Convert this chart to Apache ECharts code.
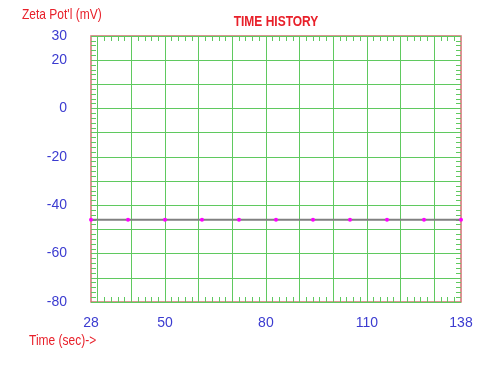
<!DOCTYPE html>
<html><head><meta charset="utf-8">
<script src="https://cdn.jsdelivr.net/npm/echarts@6/dist/echarts.min.js"></script>
<style>html,body{margin:0;padding:0;background:#fff}#c{width:496px;height:366px}</style>
</head><body><div id="c"></div>
<script>
var timeSec = [28, 39, 50, 61, 72, 83, 94, 105, 116, 127, 138];
var zetaMv = [-46, -46, -46, -46, -46, -46, -46, -46, -46, -46, -46];
var xTickLabels = [28, 50, 80, 110, 138];
var xGridValues = [30, 40, 50, 60, 70, 80, 90, 100, 110, 120, 130];
var yTickLabels = [30, 20, 0, -20, -40, -60, -80];

var xMinor = [];
for (var v = 30; v < 138; v += 2) xMinor.push(v);

var FONT = "'Liberation Sans', Arial, sans-serif";
var BLUE = '#3b3bd0';
var RED = '#e8202a';
var GREEN = '#5fc95f';

var chart = echarts.init(document.getElementById('c'), null, {renderer: 'canvas'});
var minorX = function (pos) {
  return {
    type: 'value', position: pos, min: 28, max: 138,
    axisLine: {show: false, onZero: false},
    axisTick: {show: true, inside: true, length: 5, customValues: xMinor, lineStyle: {color: GREEN, width: 1}},
    axisLabel: {show: false},
    splitLine: {show: false}
  };
};
var yAx = function (pos, labels) {
  return {
    type: 'value', position: pos, min: -80, max: 30, interval: 10,
    axisLine: {show: false, onZero: false},
    axisTick: {show: true, inside: true, length: 8, lineStyle: {color: GREEN, width: 1}},
    minorTick: {show: true, splitNumber: 5, length: 5, lineStyle: {color: GREEN, width: 1}},
    axisLabel: {
      show: labels, color: BLUE, fontFamily: FONT, fontSize: 14, margin: 24,
      formatter: function (val) { return yTickLabels.indexOf(val) >= 0 ? String(val) : ''; }
    },
    splitLine: {show: labels, lineStyle: {color: GREEN, width: 1}}
  };
};
chart.setOption({
  animation: false,
  grid: {left: 91, right: 35, top: 36, bottom: 64, show: true, borderColor: '#d07070', borderWidth: 1.5, backgroundColor: 'transparent'},
  graphic: [
    {type: 'text', x: 276, y: 22, scaleX: 0.8, style: {text: 'TIME HISTORY', fill: RED, font: 'bold 15px ' + FONT, align: 'center', verticalAlign: 'middle'}},
    {type: 'text', x: 22, y: 15, scaleX: 0.8, style: {text: "Zeta Pot'l (mV)", fill: RED, font: '15px ' + FONT, align: 'left', verticalAlign: 'middle'}},
    {type: 'text', x: 29, y: 341, scaleX: 0.8, style: {text: 'Time (sec)->', fill: RED, font: '15px ' + FONT, align: 'left', verticalAlign: 'middle'}}
  ],
  xAxis: [
    {
      type: 'value', position: 'bottom', min: 28, max: 138,
      axisLine: {show: false, onZero: false},
      axisTick: {show: false, customValues: xGridValues},
      axisLabel: {color: BLUE, fontFamily: FONT, fontSize: 14, margin: 14, customValues: xTickLabels},
      splitLine: {show: true, lineStyle: {color: GREEN, width: 1}}
    },
    minorX('bottom'),
    minorX('top')
  ],
  yAxis: [yAx('left', true), yAx('right', false)],
  series: [{
    type: 'line', xAxisIndex: 0, yAxisIndex: 0,
    data: timeSec.map(function (t, i) { return [t, zetaMv[i]]; }),
    lineStyle: {color: '#808080', width: 2},
    symbol: 'circle', symbolSize: 4, showSymbol: true,
    itemStyle: {color: '#ff00ff'},
    clip: false, z: 5
  }]
});
</script></body></html>
